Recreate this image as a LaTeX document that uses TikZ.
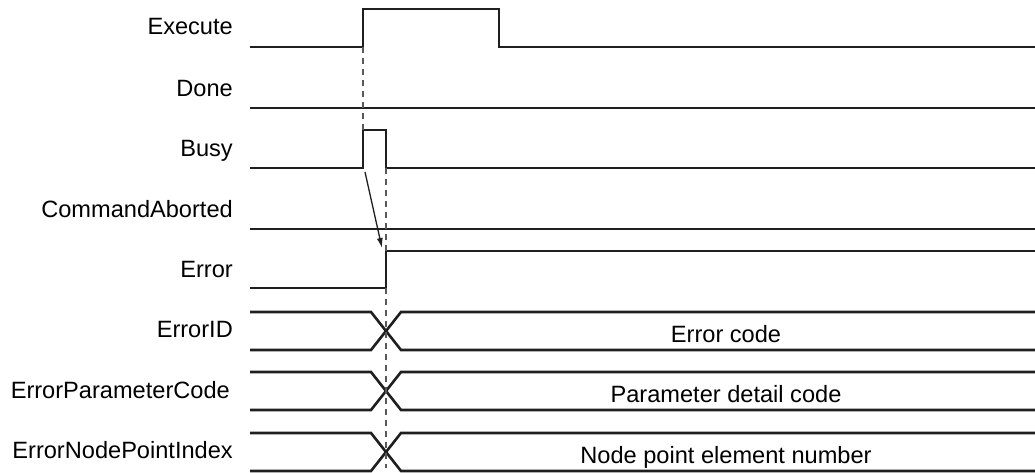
\documentclass[tikz,border=0pt]{standalone}
\usepackage{fontspec}
\setmainfont{Liberation Sans}
\usetikzlibrary{arrows.meta,positioning,calc}

\begin{document}
\begin{tikzpicture}[x=1pt, y=-1pt,
    sig/.style={line width=2.6pt, black!88},
    guide/.style={black!65, line width=1.3pt, dash pattern=on 6pt off 5pt},
    lbl/.style={anchor=base east, inner sep=0pt, font=\fontsize{23.6}{28}\selectfont},
    val/.style={anchor=base, inner sep=0pt, font=\fontsize{23.6}{28}\selectfont}]
    \useasboundingbox (0,0) rectangle (1035,473);

    % signal names
    \node[lbl] (execute) at (233,35) {Execute};
    \node[lbl] (done) at (233,97) {Done};
    \node[lbl] (busy) at (233,157) {Busy};
    \node[lbl] (aborted) at (233,217) {CommandAborted};
    \node[lbl] (error) at (233,277) {Error};
    \node[lbl] (errid) at (233,337) {ErrorID};
    \node[lbl] (errpar) at (230,398) {ErrorParameterCode};
    \node[lbl] (errnode) at (233,458) {ErrorNodePointIndex};

    % edges used by guides and arrow
    \coordinate (exrise) at (363,47);
    \coordinate (busyhigh) at (363,130);
    \coordinate (busyfall) at (386,168);
    \coordinate (errrise) at (386,251);
    \coordinate (errlow) at (386,288);
    \coordinate (busend) at (386,468);

    % Execute
    \draw[sig] (250,47) -- (exrise) -- (363,9) -- (499,9) -- (499,47) -- (1035,47);
    % Done
    \draw[sig] (250,108) -- (1035,108);
    % Busy
    \draw[sig] (250,168) -- (363,168) -- (busyhigh) -- (386,130) -- (busyfall) -- (1035,168);
    % CommandAborted
    \draw[sig] (250,229) -- (1035,229);
    % Error
    \draw[sig] (250,288) -- (errlow) -- (errrise) -- (1035,251);

    % output values (bus crossing at the Error edge)
    \foreach \yt/\txt [count=\i] in {312/Error code, 372/Parameter detail code, 433/Node point element number} {
        \draw[sig] (250,\yt) -- (371,\yt) -- (401,\yt+38) -- (1035,\yt+38);
        \draw[sig] (250,\yt+38) -- (371,\yt+38) -- (401,\yt) -- (1035,\yt);
        \node[val] (code\i) at (726,\yt+30) {\txt};
    }

    % timing guides
    \draw[guide] (exrise) -- (busyhigh);
    \draw[guide] (busyfall) -- (errrise);
    \draw[guide] (errlow) -- (busend);

    % Busy falls -> Error rises
    \draw[-{Latex[length=10pt,width=6pt]}, black!88, line width=1.3pt] ($(363,168)+(2,4)$) -- ($(errrise)+(-4,-3)$);
\end{tikzpicture}
\end{document}
